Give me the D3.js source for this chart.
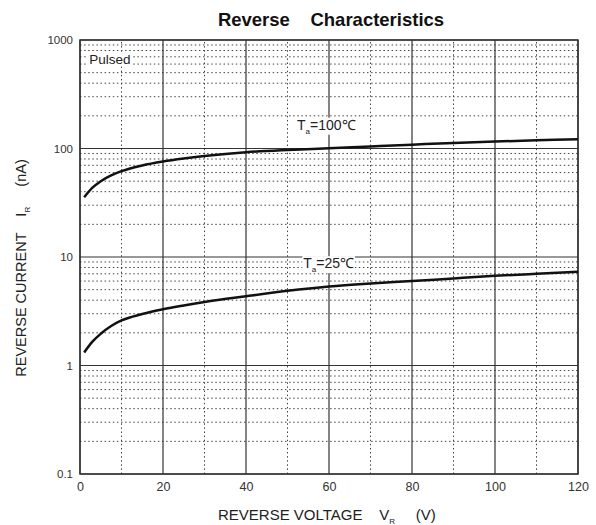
<!DOCTYPE html>
<html>
<head>
<meta charset="utf-8">
<script src="https://cdn.jsdelivr.net/npm/d3@7"></script>
<style>
  body { margin: 0; background: #fff; }
  svg text { font-family: "Liberation Sans", Arial, sans-serif; }
</style>
</head>
<body>
<div id="chart"></div>
<script>
// Reverse current vs reverse voltage
const voltage = [1, 3, 5, 7.5, 10, 15, 20, 25, 30, 40, 50, 60, 70, 80, 90, 100, 110, 120];
const current100C = [35.5, 43.5, 50, 56.5, 61.8, 69.8, 75.9, 80.9, 85.3, 92.5, 97, 100.5, 104.5, 108.5, 112.5, 116, 119, 122];
const current25C = [1.32, 1.66, 1.96, 2.31, 2.6, 2.98, 3.3, 3.58, 3.85, 4.35, 4.88, 5.35, 5.7, 6.0, 6.35, 6.7, 7.0, 7.3];

const xTicks = [0, 20, 40, 60, 80, 100, 120];
const xMinorTicks = [10, 30, 50, 70, 90, 110];
const yTicks = [0.1, 1, 10, 100, 1000];
const yTickLabels = ["0.1", "1", "10", "100", "1000"];

const width = 596, height = 525;
const margin = { left: 80, right: 18, top: 40, bottom: 51 };

const svg = d3.select("#chart").append("svg")
  .attr("width", width)
  .attr("height", height);

const x = d3.scaleLinear().domain([0, 120]).range([margin.left, width - margin.right]);
const y = d3.scaleLog().domain([0.1, 1000]).range([height - margin.bottom, margin.top]);

// minor log grid (2..9 in every decade)
const yMinor = [];
for (let dec = 0.1; dec < 1000; dec *= 10) {
  for (let k = 2; k <= 9; k++) yMinor.push(+(dec * k).toPrecision(3));
}

const grid = svg.append("g");

grid.selectAll("line.ymin")
  .data(yMinor)
  .join("line")
  .attr("class", "ymin")
  .attr("x1", x(0)).attr("x2", x(120))
  .attr("y1", d => y(d)).attr("y2", d => y(d))
  .attr("stroke", "#444")
  .attr("stroke-width", 1)
  .attr("stroke-dasharray", "1.5,2.6");

grid.selectAll("line.xmin")
  .data(xMinorTicks)
  .join("line")
  .attr("class", "xmin")
  .attr("x1", d => x(d)).attr("x2", d => x(d))
  .attr("y1", y(0.1)).attr("y2", y(1000))
  .attr("stroke", "#444")
  .attr("stroke-width", 1)
  .attr("stroke-dasharray", "1.5,2.6");

grid.selectAll("line.ymaj")
  .data(yTicks)
  .join("line")
  .attr("class", "ymaj")
  .attr("x1", x(0)).attr("x2", x(120))
  .attr("y1", d => y(d)).attr("y2", d => y(d))
  .attr("stroke", "#333")
  .attr("stroke-width", 1.2);

grid.selectAll("line.xmaj")
  .data(xTicks)
  .join("line")
  .attr("class", "xmaj")
  .attr("x1", d => x(d)).attr("x2", d => x(d))
  .attr("y1", y(0.1)).attr("y2", y(1000))
  .attr("stroke", "#333")
  .attr("stroke-width", 1.2);

svg.append("rect")
  .attr("x", x(0)).attr("y", y(1000))
  .attr("width", x(120) - x(0)).attr("height", y(0.1) - y(1000))
  .attr("fill", "none")
  .attr("stroke", "#333")
  .attr("stroke-width", 1.5);

// axes (labels only, the frame is drawn above)
const xAxis = svg.append("g")
  .attr("transform", `translate(0,${y(0.1)})`)
  .call(d3.axisBottom(x).tickValues(xTicks).tickSize(0).tickPadding(8));
xAxis.select(".domain").remove();
xAxis.selectAll("text").attr("font-size", 12.5).attr("fill", "#333")
  .attr("font-family", "Liberation Sans, Arial, sans-serif");

const yAxis = svg.append("g")
  .attr("transform", `translate(${x(0)},0)`)
  .call(d3.axisLeft(y).tickValues(yTicks).tickFormat((d, i) => yTickLabels[i]).tickSize(0).tickPadding(7));
yAxis.select(".domain").remove();
yAxis.selectAll("text").attr("font-size", 11.5).attr("fill", "#333")
  .attr("font-family", "Liberation Sans, Arial, sans-serif");

// curves
const line = d3.line()
  .x((d, i) => x(voltage[i]))
  .y(d => y(d))
  .curve(d3.curveMonotoneX);

[current100C, current25C].forEach(s => {
  svg.append("path")
    .datum(s)
    .attr("d", line)
    .attr("fill", "none")
    .attr("stroke", "#111")
    .attr("stroke-width", 2.5);
});

// labels with white backing
function label(px, py, size, main, sub, rest) {
  const g = svg.append("g");
  const t = g.append("text")
    .attr("x", px).attr("y", py)
    .attr("font-size", size).attr("fill", "#222");
  t.append("tspan").text(main);
  if (sub) t.append("tspan").text(sub).attr("font-size", 8).attr("dy", 4);
  if (rest) t.append("tspan").text(rest).attr("dy", sub ? -4 : 0);
  const bb = t.node().getBBox();
  g.insert("rect", "text")
    .attr("x", bb.x - 1).attr("y", bb.y + 1)
    .attr("width", bb.width + 2).attr("height", bb.height - 2)
    .attr("fill", "#fff");
}
label(x(2.2), y(600), 13.5, "Pulsed");
label(x(52.3), y(149), 14, "T", "a", "=100℃");
label(x(53.8), y(7.9), 14, "T", "a", "=25℃");

// title
svg.append("text")
  .attr("x", 331).attr("y", 26)
  .attr("text-anchor", "middle")
  .attr("font-size", 18.5).attr("font-weight", "bold").attr("fill", "#111")
  .attr("xml:space", "preserve")
  .text("Reverse    Characteristics");

// x title
const xt = svg.append("text")
  .attr("x", 218).attr("y", 520)
  .attr("font-size", 15).attr("fill", "#222")
  .attr("xml:space", "preserve");
xt.append("tspan").text("REVERSE VOLTAGE    V");
xt.append("tspan").text("R").attr("font-size", 8).attr("dy", 4);
xt.append("tspan").text("     (V)").attr("dy", -4);

// y title
const yt = svg.append("text")
  .attr("transform", `translate(26,268) rotate(-90)`)
  .attr("text-anchor", "middle")
  .attr("font-size", 14.5).attr("fill", "#222")
  .attr("xml:space", "preserve");
yt.append("tspan").text("REVERSE CURRENT    I");
yt.append("tspan").text("R").attr("font-size", 8).attr("dy", 4);
yt.append("tspan").text("     (nA)").attr("dy", -4);
</script>
</body>
</html>
